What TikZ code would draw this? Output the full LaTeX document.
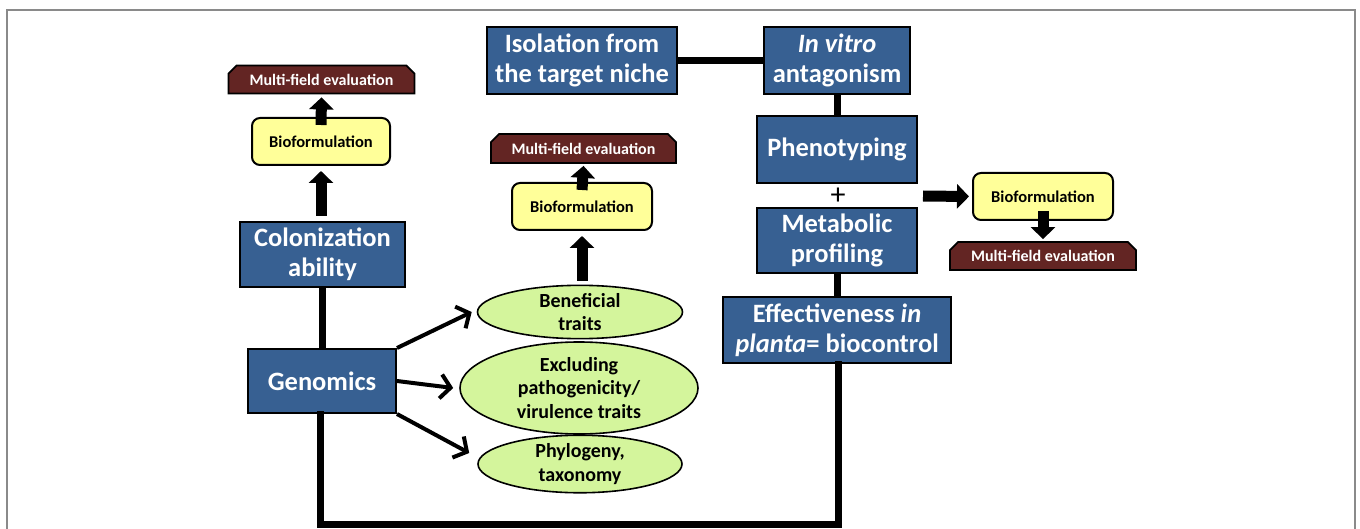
\documentclass[tikz,border=0pt]{standalone}
\usepackage{fontspec}
\setmainfont{Carlito}
\usetikzlibrary{arrows.meta,shapes.misc,shapes.geometric}
\definecolor{bluebox}{HTML}{376092}
\definecolor{brownbox}{HTML}{632523}
\definecolor{yellowbox}{HTML}{FFFF99}
\definecolor{greenell}{HTML}{D4F59C}
\definecolor{framegray}{HTML}{8A8A8A}
\tikzset{
  bluenode/.style={draw=black, line width=2pt, fill=bluebox, text=white,
    font=\bfseries\fontsize{26.5}{30}\selectfont, align=center, inner sep=0pt},
  bionode/.style={draw=black, line width=2pt, fill=yellowbox, rounded corners=8pt,
    font=\bfseries\fontsize{16.5}{19}\selectfont, inner sep=0pt},
  mfnode/.style={chamfered rectangle, chamfered rectangle corners={north west,north east},
    chamfered rectangle xsep=5pt, draw=black, line width=1.8pt, fill=brownbox, text=white,
    font=\bfseries\fontsize{16}{18}\selectfont, inner sep=0pt},
  ellnode/.style={ellipse, draw=black, line width=1.6pt, fill=greenell,
    font=\bfseries\fontsize{20}{23.5}\selectfont, align=center, inner sep=0pt},
  conn/.style={line width=7pt},
  blockarrow/.style={line width=11pt, -{Triangle[length=12pt,width=24pt]}},
  barbarrow/.style={line width=4pt, -{Straight Barb[length=10pt,width=24pt,line width=4pt]}},
}
\begin{document}
\begin{tikzpicture}[x=1pt,y=-1pt]
\useasboundingbox (0,0) rectangle (1360,529);
\draw[framegray, line width=1.5pt] (7,529) -- (7,10) -- (1355,10) -- (1355,529);

% right column
\node[bluenode, minimum width=190pt, minimum height=67pt] (iso) at (582,60.5) {Isolation from\\the target niche};
\node[bluenode, minimum width=146pt, minimum height=67pt] (vitro) at (837,60.5) {\itshape In vitro\\antagonism};
\node[bluenode, minimum width=160pt, minimum height=67pt] (pheno) at (837,149.5) {Phenotyping};
\node[font=\fontsize{30}{30}\selectfont] (plus) at (838,196) {+};
\node[bluenode, minimum width=160pt, minimum height=65pt] (metab) at (837,240.5) {Metabolic\\profiling};
\node[bluenode, minimum width=228pt, minimum height=66pt] (effect) at (837,330) {Effectiveness \textit{in}\\\textit{planta}= biocontrol};

\node[bionode, minimum width=140pt, minimum height=47pt] (bio3) at (1043,196.5) {Bioformulation};
\node[mfnode, minimum width=186pt, minimum height=28pt] (mf3) at (1043,256) {Multi-field evaluation};

% left column
\node[bluenode, minimum width=165pt, minimum height=65pt] (colon) at (322.5,254.5) {Colonization\\ability};
\node[bluenode, minimum width=148pt, minimum height=64pt] (genom) at (322,381) {Genomics};
\node[bionode, minimum width=138pt, minimum height=47pt] (bio1) at (321,141.5) {Bioformulation};
\node[mfnode, minimum width=186pt, minimum height=28pt] (mf1) at (321.5,79.5) {Multi-field evaluation};

% middle column
\node[mfnode, minimum width=185pt, minimum height=29pt] (mf2) at (583.5,148.5) {Multi-field evaluation};
\node[bionode, minimum width=140pt, minimum height=47pt] (bio2) at (582,206.5) {Bioformulation};
\node[ellnode, minimum width=205pt, minimum height=50pt] (ben) at (580,312) {Beneficial\\traits};
\node[ellnode, minimum width=238pt, minimum height=92pt] (excl) at (579,388) {Excluding\\pathogenicity/\\virulence traits};
\node[ellnode, minimum width=204pt, minimum height=51pt] (phylo) at (580,464) {Phylogeny,\\taxonomy};

\coordinate (bl) at (320,524);
\coordinate (br) at (838,524);

% connectors
\draw[conn] (iso.east) -- (vitro.west);
\draw[conn] (vitro.south) -- (pheno.north);
\draw[conn] (metab.south) -- (effect.north);
\draw[conn] (colon.south -| genom.north) -- (genom.north);
\draw[conn, line cap=rect] (effect.south -| br) -- (br) -- (bl) -- (bl |- genom.south);

% block arrows
\draw[blockarrow] ([yshift=5pt]colon.north -| bio1.south) -- ([yshift=-5pt]bio1.south);
\draw[blockarrow] ([yshift=-8pt]bio1.north) -- ([yshift=-3pt]mf1.south);
\draw[blockarrow] ([yshift=4pt]ben.north -| bio2.south) -- ([yshift=-5pt]bio2.south);
\draw[blockarrow] ([yshift=-8pt]bio2.north) -- ([yshift=-2pt]mf2.south);
\draw[blockarrow] ([xshift=5pt]pheno.east |- plus) -- ([xshift=-3pt]bio3.west);
\draw[blockarrow] ([yshift=10pt]bio3.south) -- ([yshift=2pt]mf3.north);

% genomics arrows
\draw[barbarrow] (genom.north east) -- ([xshift=-5pt]ben.west);
\draw[barbarrow] (genom.east) -- ([xshift=-6pt]excl.west);
\draw[barbarrow] (genom.south east) -- ([xshift=-8pt,yshift=11pt]phylo.west);
\end{tikzpicture}
\end{document}
